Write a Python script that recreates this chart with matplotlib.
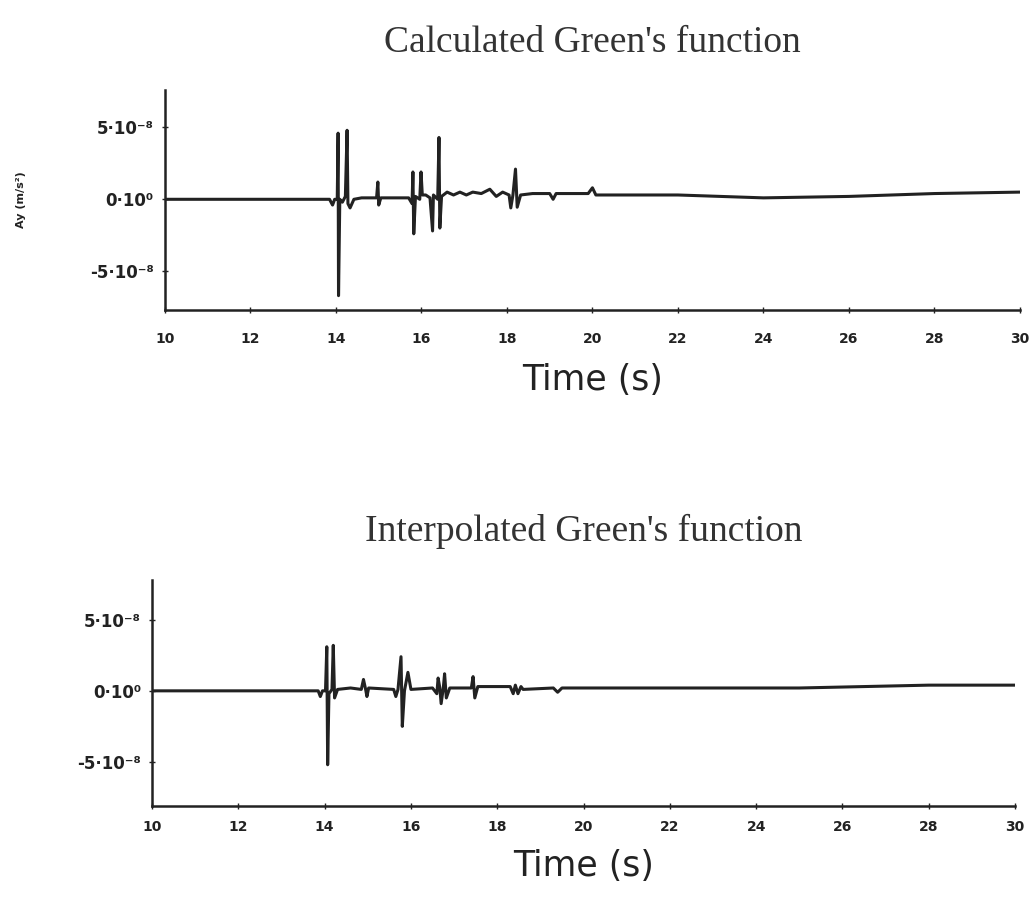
import matplotlib
matplotlib.use("Agg")
import matplotlib.pyplot as plt

# trace values in units of 1e-8
calc_t = [10.0, 13.85, 13.92, 13.97, 14.03, 14.05, 14.06, 14.09, 14.15, 14.22, 14.26, 14.28,
          14.33, 14.42, 14.6, 14.95, 14.98, 15.0, 15.05, 15.7, 15.78, 15.8, 15.82, 15.86,
          15.96, 15.99, 16.02, 16.1, 16.2, 16.26, 16.28, 16.38, 16.41, 16.43, 16.47, 16.6,
          16.75, 16.9, 17.05, 17.2, 17.4, 17.6, 17.75, 17.9, 18.05, 18.09, 18.14, 18.2,
          18.24, 18.32, 18.6, 19.0, 19.08, 19.15, 19.9, 20.0, 20.08, 22.0, 24.0, 26.0,
          28.0, 30.0]
calc_v = [0.0, 0.0, -0.4, 0.0, 0.0, 4.6, -6.7, 0.0, -0.2, 0.2, 4.8, -0.3,
          -0.6, 0.0, 0.1, 0.1, 1.2, -0.4, 0.1, 0.1, -0.3, 1.9, -2.4, 0.2,
          0.0, 1.9, 0.3, 0.3, 0.1, -2.2, 0.3, 0.0, 4.3, -2.0, 0.2, 0.5,
          0.3, 0.5, 0.3, 0.5, 0.4, 0.7, 0.2, 0.5, 0.3, -0.6, 0.3, 2.1,
          -0.55, 0.3, 0.4, 0.4, 0.0, 0.4, 0.4, 0.8, 0.3, 0.3, 0.1, 0.2,
          0.4, 0.5]

interp_t = [10.0, 13.85, 13.9, 13.95, 14.02, 14.05, 14.07, 14.1, 14.17, 14.2, 14.23, 14.3,
            14.6, 14.85, 14.9, 14.95, 14.98, 15.02, 15.6, 15.65, 15.7, 15.77, 15.8, 15.85,
            15.93, 16.0, 16.5, 16.6, 16.63, 16.67, 16.7, 16.75, 16.78, 16.82, 16.9, 17.4,
            17.44, 17.48, 17.55, 18.3, 18.37, 18.42, 18.48, 18.55, 18.6, 19.3, 19.4, 19.5,
            22.0, 25.0, 28.0, 30.0]
interp_v = [0.0, 0.0, -0.4, 0.0, 0.0, 3.1, -5.2, -0.2, 0.1, 3.2, -0.5, 0.1,
            0.2, 0.1, 0.8, 0.1, -0.4, 0.2, 0.1, -0.4, 0.1, 2.4, -2.5, 0.0,
            1.3, 0.1, 0.2, -0.2, 0.9, 0.2, -0.9, 0.2, 1.2, -0.5, 0.2, 0.2,
            1.0, -0.5, 0.3, 0.3, -0.2, 0.4, -0.2, 0.3, 0.1, 0.2, -0.1, 0.2,
            0.2, 0.2, 0.4, 0.4]

x_ticks = [10, 12, 14, 16, 18, 20, 22, 24, 26, 28, 30]
y_ticks = [-5, 0, 5]
y_labels = ["-5·10⁻⁸", "0·10⁰", "5·10⁻⁸"]

ink = "#222222"

fig = plt.figure(figsize=(10.35, 9.1), dpi=100)
fig.patch.set_facecolor("white")

def style_axes(ax, ylim, xpad):
    ax.set_xlim(10, 30)
    ax.set_ylim(*ylim)
    for s in ["top", "right"]:
        ax.spines[s].set_visible(False)
    for s in ["left", "bottom"]:
        ax.spines[s].set_linewidth(1.8)
        ax.spines[s].set_color(ink)
    ax.set_xticks(x_ticks)
    ax.set_xticklabels([str(x) for x in x_ticks], fontsize=10, fontweight="bold")
    ax.set_yticks(y_ticks)
    ax.set_yticklabels(y_labels, fontsize=12, fontweight="bold")
    ax.tick_params(axis="both", direction="inout", length=4, width=1, colors=ink)
    ax.tick_params(axis="x", pad=xpad)
    ax.tick_params(axis="y", pad=6)

ax1 = fig.add_axes([0.1594, 0.6593, 0.826, 0.2418])
ax1.plot(calc_t, calc_v, color=ink, lw=2.2)
style_axes(ax1, (-7.7, 7.6), 14)
ax1.set_ylabel("Ay (m/s²)", fontsize=8, fontweight="bold", labelpad=46, color=ink)
ax1.set_xlabel("Time (s)", fontsize=25, labelpad=12, color=ink)
ax1.set_title("Calculated Green's function", fontsize=27, family="Liberation Serif",
              pad=27, color="#333333")

ax2 = fig.add_axes([0.1469, 0.1143, 0.8338, 0.2484])
ax2.plot(interp_t, interp_v, color=ink, lw=2.2)
style_axes(ax2, (-8.1, 7.8), 8)
ax2.set_xlabel("Time (s)", fontsize=25, labelpad=11, color=ink)
ax2.set_title("Interpolated Green's function", fontsize=27, family="Liberation Serif",
              pad=28, color="#333333")

fig.savefig("out.png", dpi=100, facecolor="white")
